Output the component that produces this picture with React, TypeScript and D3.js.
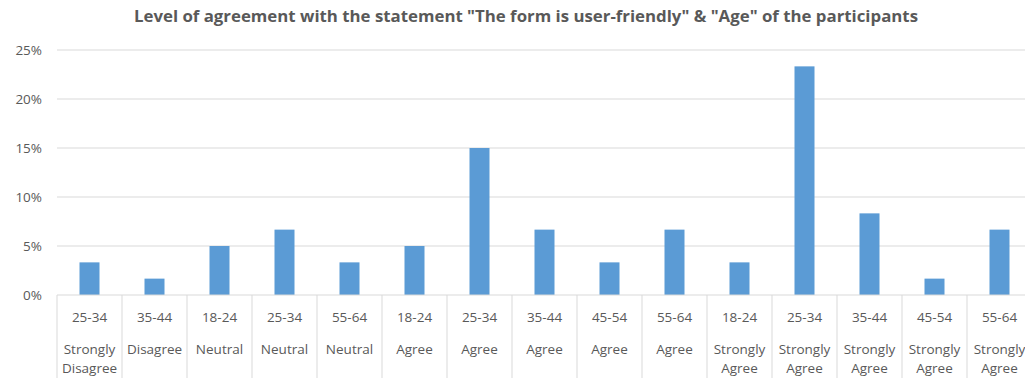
import React from "react";
import * as d3 from "d3";

const ages = ["25-34", "35-44", "18-24", "25-34", "55-64", "18-24", "25-34", "35-44", "45-54", "55-64", "18-24", "25-34", "35-44", "45-54", "55-64"];
const levels = [
  ["Strongly", "Disagree"], ["Disagree"], ["Neutral"], ["Neutral"], ["Neutral"],
  ["Agree"], ["Agree"], ["Agree"], ["Agree"], ["Agree"],
  ["Strongly", "Agree"], ["Strongly", "Agree"], ["Strongly", "Agree"], ["Strongly", "Agree"], ["Strongly", "Agree"],
];
const values = [3.33, 1.67, 5, 6.67, 3.33, 5, 15, 6.67, 3.33, 6.67, 3.33, 23.33, 8.33, 1.67, 6.67];
const yTicks = [0, 5, 10, 15, 20, 25];
const title = 'Level of agreement with the statement "The form is user-friendly" & "Age" of the participants';

const W = 1025, H = 378;
const left = 57, right = 57 + 15 * 65, top = 50, bottom = 295;
const font = "'Open Sans', 'Liberation Sans', sans-serif";

export default function App() {
  const idx = values.map((_, i) => i);
  const x = d3.scaleBand<number>().domain(idx).range([left, right]).paddingInner(0).paddingOuter(0);
  const y = d3.scaleLinear().domain([0, 25]).range([bottom, top]);
  const bw = 20;
  return (
    <svg width={W} height={H} style={{ position: "absolute", left: 0, top: 0, background: "#fff" }}>
      <text x={526} y={22} textAnchor="middle" fontFamily={font} fontWeight="bold" fontSize={15.5} fill="#595959"
        textLength={784} lengthAdjust="spacingAndGlyphs">{title}</text>
      {yTicks.map((t) => (
        <g key={t}>
          {t > 0 && <line x1={left} x2={W} y1={y(t)} y2={y(t)} stroke="#d9d9d9" strokeWidth={1} />}
          <text x={42} y={y(t) + 5} textAnchor="end" fontFamily={font} fontSize={13.5} fill="#595959">{t}%</text>
        </g>
      ))}
      {values.map((v, i) => (
        <rect key={i} x={x(i)! + x.bandwidth() / 2 - bw / 2} y={y(v)} width={bw} height={bottom - y(v)} fill="#5b9bd5" />
      ))}
      <line x1={left} x2={W} y1={bottom} y2={bottom} stroke="#d9d9d9" strokeWidth={1} />
      {d3.range(16).map((i) => {
        const xx = left + i * x.bandwidth();
        return <line key={i} x1={xx} x2={xx} y1={bottom} y2={H} stroke="#d9d9d9" strokeWidth={1} />;
      })}
      {idx.map((i) => {
        const cx = x(i)! + x.bandwidth() / 2;
        return (
          <g key={i} fontFamily={font} fontSize={13.5} fill="#595959" textAnchor="middle">
            <text x={cx} y={322}>{ages[i]}</text>
            {levels[i].map((l, j) => (
              <text key={j} x={cx} y={354 + j * 19}>{l}</text>
            ))}
          </g>
        );
      })}
    </svg>
  );
}
